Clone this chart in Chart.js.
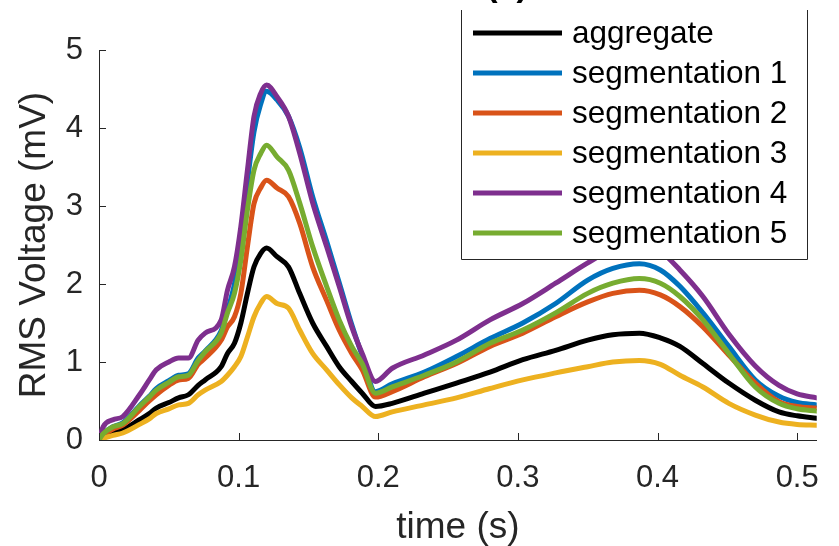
<!DOCTYPE html>
<html>
<head>
<meta charset="utf-8">
<script src="https://cdn.jsdelivr.net/npm/chart.js@4/dist/chart.umd.min.js"></script>
<style>
  html, body { margin: 0; padding: 0; background: #fff; }
  #wrap { width: 839px; height: 546px; }
</style>
</head>
<body>
<div id="wrap"><canvas id="rms" width="839" height="546"></canvas></div>
<script>
// sample times (s)
var time = [0, 0.003, 0.01, 0.017, 0.029, 0.036, 0.041, 0.05, 0.057, 0.064, 0.071, 0.076,
  0.0875, 0.092, 0.097, 0.1016, 0.1063, 0.111, 0.1157, 0.12, 0.1275, 0.1357, 0.1437, 0.153,
  0.163, 0.172, 0.181, 0.1885, 0.198, 0.21, 0.233, 0.256, 0.28, 0.3035, 0.327, 0.35, 0.368,
  0.387, 0.402, 0.416, 0.4325, 0.451, 0.47, 0.487, 0.5, 0.514];

// RMS voltage (mV)
var aggregate = [0, 0.04, 0.09, 0.13, 0.26, 0.34, 0.41, 0.48, 0.54, 0.58, 0.70, 0.77,
  0.94, 1.11, 1.24, 1.50, 1.88, 2.22, 2.39, 2.46, 2.35, 2.22, 1.88, 1.50,
  1.20, 0.94, 0.75, 0.60, 0.43, 0.47, 0.60, 0.73, 0.87, 1.03, 1.15, 1.28, 1.35,
  1.37, 1.31, 1.20, 0.98, 0.73, 0.51, 0.36, 0.31, 0.28];
var seg1 = [0, 0.08, 0.17, 0.22, 0.44, 0.56, 0.66, 0.76, 0.83, 0.85, 1.05, 1.14,
  1.40, 1.66, 2.00, 2.50, 3.30, 3.95, 4.30, 4.47, 4.36, 4.15, 3.75, 3.12,
  2.55, 2.02, 1.48, 1.08, 0.62, 0.72, 0.87, 1.07, 1.30, 1.50, 1.75, 2.05, 2.20,
  2.26, 2.18, 1.97, 1.63, 1.20, 0.77, 0.56, 0.48, 0.45];
var seg2 = [0, 0.06, 0.14, 0.19, 0.38, 0.50, 0.58, 0.70, 0.77, 0.79, 0.97, 1.05,
  1.28, 1.45, 1.58, 1.88, 2.48, 3.03, 3.23, 3.33, 3.23, 3.12, 2.78, 2.22,
  1.79, 1.41, 1.11, 0.90, 0.55, 0.62, 0.81, 0.98, 1.20, 1.37, 1.58, 1.77, 1.88,
  1.92, 1.86, 1.71, 1.45, 1.09, 0.73, 0.49, 0.43, 0.41];
var seg3 = [0, 0.02, 0.06, 0.09, 0.20, 0.27, 0.34, 0.40, 0.45, 0.47, 0.58, 0.64,
  0.75, 0.83, 0.94, 1.07, 1.32, 1.58, 1.75, 1.84, 1.75, 1.69, 1.41, 1.11,
  0.90, 0.71, 0.54, 0.43, 0.30, 0.36, 0.45, 0.54, 0.66, 0.77, 0.86, 0.94, 1.00,
  1.02, 0.97, 0.83, 0.68, 0.47, 0.32, 0.23, 0.20, 0.19];
var seg4 = [0, 0.17, 0.26, 0.30, 0.58, 0.77, 0.90, 1.00, 1.05, 1.05, 1.28, 1.37,
  1.54, 1.92, 2.22, 2.74, 3.46, 4.15, 4.44, 4.55, 4.40, 4.15, 3.68, 3.04,
  2.48, 1.97, 1.45, 1.11, 0.75, 0.92, 1.09, 1.28, 1.54, 1.75, 2.01, 2.27, 2.45,
  2.53, 2.42, 2.18, 1.84, 1.36, 0.95, 0.70, 0.59, 0.54];
var seg5 = [0, 0.08, 0.17, 0.21, 0.43, 0.55, 0.64, 0.74, 0.81, 0.83, 1.02, 1.13,
  1.37, 1.63, 1.88, 2.31, 2.95, 3.46, 3.67, 3.78, 3.63, 3.46, 3.04, 2.48,
  1.97, 1.54, 1.20, 0.98, 0.60, 0.68, 0.83, 1.00, 1.24, 1.41, 1.63, 1.88, 2.01,
  2.07, 2.01, 1.84, 1.54, 1.11, 0.68, 0.47, 0.40, 0.37];

var seriesNames = ['aggregate', 'segmentation 1', 'segmentation 2', 'segmentation 3', 'segmentation 4', 'segmentation 5'];
var seriesValues = [aggregate, seg1, seg2, seg3, seg4, seg5];
var seriesColors = ['#000000', '#0072BD', '#D95319', '#EDB120', '#7E2F8E', '#77AC30'];

var xTicks = [0, 0.1, 0.2, 0.3, 0.4, 0.5];
var yTicks = [0, 1, 2, 3, 4, 5];

var axisColor = '#262626';
var fontName = '"Liberation Sans", Arial, Helvetica, sans-serif';

var datasets = seriesValues.map(function(vals, i) {
  return {
    label: seriesNames[i],
    data: vals.map(function(v, k) { return { x: time[k], y: v }; }),
    borderColor: seriesColors[i],
    backgroundColor: seriesColors[i],
    borderWidth: 5,
    pointRadius: 0,
    cubicInterpolationMode: 'monotone',
    borderJoinStyle: 'round',
    borderCapStyle: 'round',
    fill: false,
    order: seriesValues.length - i   // later series on top
  };
});

// tick marks pointing into the plot, legend box and the panel title
var decorations = {
  id: 'decorations',
  afterDatasetsDraw: function(chart) {
    var c = chart.ctx, a = chart.chartArea;
    var xs = chart.scales.x, ys = chart.scales.y;
    c.save();
    c.strokeStyle = axisColor;
    c.lineWidth = 1;
    c.beginPath();
    xTicks.forEach(function(v) {
      var px = Math.round(xs.getPixelForValue(v)) + 0.5;
      c.moveTo(px, a.bottom);
      c.lineTo(px, a.bottom - 7);
    });
    yTicks.forEach(function(v) {
      var py = Math.round(ys.getPixelForValue(v)) + 0.5;
      c.moveTo(a.left, py);
      c.lineTo(a.left + 7, py);
    });
    c.stroke();
    c.restore();
  },
  afterDraw: function(chart) {
    var c = chart.ctx;
    var bx = 461, bw = 346, by = 10, bh = 249;
    c.save();
    c.fillStyle = '#fff';
    c.fillRect(bx, 0, bw, by + bh);
    c.strokeStyle = axisColor;
    c.lineWidth = 1;
    c.beginPath();
    c.moveTo(bx + 0.5, by);
    c.lineTo(bx + 0.5, by + bh + 0.5);
    c.lineTo(bx + bw + 0.5, by + bh + 0.5);
    c.lineTo(bx + bw + 0.5, by);
    c.stroke();

    c.font = '31.5px ' + fontName;
    c.textBaseline = 'middle';
    c.textAlign = 'left';
    seriesNames.forEach(function(name, i) {
      var y = 33 + i * 40;
      c.strokeStyle = seriesColors[i];
      c.lineWidth = 5;
      c.beginPath();
      c.moveTo(473, y);
      c.lineTo(562, y);
      c.stroke();
      c.fillStyle = '#000';
      c.fillText(name, 572, y + 1);
    });

    c.font = 'bold 34px ' + fontName;
    c.textAlign = 'center';
    c.textBaseline = 'alphabetic';
    c.fillStyle = '#000';
    c.fillText('(a)', 507, -4);
    c.restore();
  }
};

new Chart(document.getElementById('rms').getContext('2d'), {
  type: 'line',
  data: { datasets: datasets },
  options: {
    responsive: false,
    animation: false,
    layout: { padding: { top: 50, right: 10, left: 0, bottom: 0 } },
    plugins: { legend: { display: false }, title: { display: false }, tooltip: { enabled: false } },
    scales: {
      x: {
        type: 'linear',
        min: 0,
        max: 0.514,
        afterBuildTicks: function(s) { s.ticks = xTicks.map(function(v) { return { value: v }; }); },
        afterFit: function(s) { s.height = 106; },
        grid: { display: false, drawTicks: false },
        border: { display: true, color: axisColor, width: 1 },
        ticks: {
          color: axisColor,
          font: { family: fontName, size: 31 },
          padding: 20,
          maxRotation: 0,
          autoSkip: false,
          callback: function(v) { return String(v); }
        },
        title: {
          display: true,
          text: 'time (s)',
          color: axisColor,
          font: { family: fontName, size: 37 },
          padding: { top: 0, bottom: -4 }
        }
      },
      y: {
        min: 0,
        max: 5,
        afterBuildTicks: function(s) { s.ticks = yTicks.map(function(v) { return { value: v }; }); },
        afterFit: function(s) { s.width = 99; },
        grid: { display: false, drawTicks: false },
        border: { display: true, color: axisColor, width: 1 },
        ticks: {
          color: axisColor,
          font: { family: fontName, size: 31 },
          padding: 16,
          autoSkip: false,
          callback: function(v) { return String(v); }
        },
        title: {
          display: true,
          text: 'RMS Voltage (mV)',
          color: axisColor,
          font: { family: fontName, size: 37 },
          padding: { top: 13, bottom: 0 }
        }
      }
    }
  },
  plugins: [decorations]
});
</script>
</body>
</html>
